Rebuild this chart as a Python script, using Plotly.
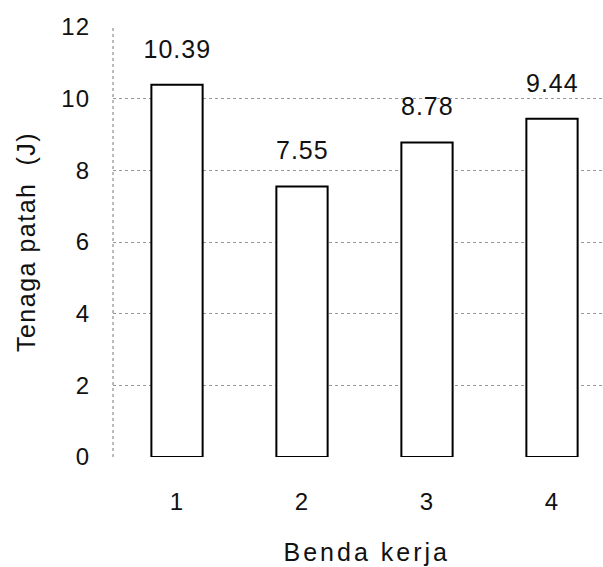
import plotly.graph_objects as go

# Fracture energy per workpiece
workpieces = ["1", "2", "3", "4"]
energy = [10.39, 7.55, 8.78, 9.44]
y_ticks = [0, 2, 4, 6, 8, 10, 12]

FONT = "Liberation Sans, Arial, sans-serif"

fig = go.Figure(
    go.Bar(
        x=[1, 2, 3, 4],
        y=energy,
        width=0.41,
        marker=dict(color="white", line=dict(color="black", width=2)),
        hoverinfo="skip",
    )
)

# Value labels above each bar
for xi, v in zip([1, 2, 3, 4], energy):
    fig.add_annotation(
        x=xi, y=v, text=f"{v:.2f}", showarrow=False,
        yshift=36, font=dict(family=FONT, size=25, color="#111"),
    )

# X-axis title, placed slightly right of the plot centre
fig.add_annotation(
    text="Benda kerja", xref="paper", yref="paper", x=0.518, y=-0.221,
    xanchor="center", yanchor="middle", showarrow=False,
    font=dict(family=FONT, size=25, color="#111"),
)

# Dotted left boundary of the plot area
fig.add_shape(
    type="line", xref="paper", yref="paper", x0=0, x1=0, y0=0, y1=1,
    line=dict(color="#777", width=1, dash="dot"), layer="below",
)

fig.update_layout(
    width=603, height=567,
    margin=dict(l=113, r=0, t=27, b=110),
    paper_bgcolor="white", plot_bgcolor="white",
    showlegend=False,
    font=dict(family=FONT, size=24, color="#111"),
    xaxis=dict(
        range=[0.488, 4.408],
        tickvals=[1, 2, 3, 4], ticktext=workpieces,
        showgrid=False, zeroline=False, showline=False,
        ticks="", ticklabelstandoff=28,
    ),
    yaxis=dict(
        range=[0, 12],
        tickvals=y_ticks,
        showgrid=True, gridcolor="#999", gridwidth=1, griddash="dot",
        zeroline=False, showline=False,
        ticks="", ticklabelstandoff=22,
        title=dict(text="Tenaga patah  (J)", standoff=20, font=dict(size=25)),
    ),
)

# Letter spacing: wide on the x title, moderate on the y title, slight on numbers
spacing_js = """
var gd = document.getElementById('{plot_id}');
gd.querySelectorAll('text').forEach(function (t) {
    var s = '1px';
    if (t.classList.contains('ytitle')) { s = '1.5px'; }
    if (t.textContent === 'Benda kerja') { s = '3px'; }
    t.style.letterSpacing = s;
});
"""

fig.write_html("out.html", post_script=spacing_js)
